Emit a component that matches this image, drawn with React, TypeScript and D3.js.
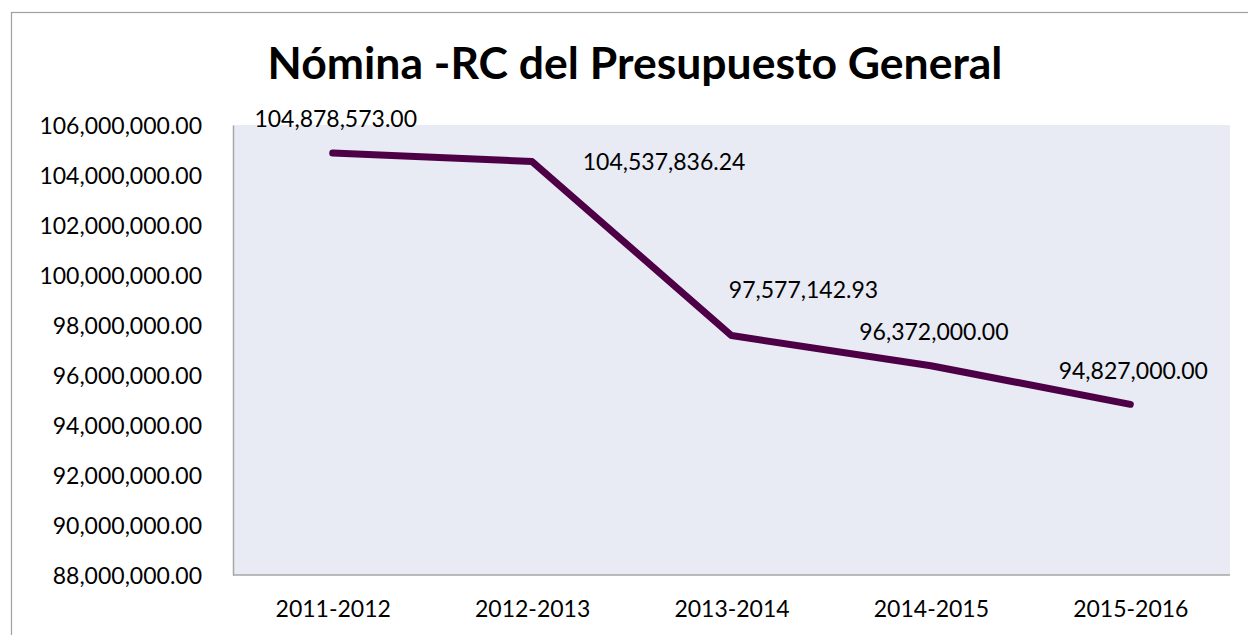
import { useEffect, useRef } from "react";
import * as d3 from "d3";

// Nómina -RC del Presupuesto General, per fiscal year
const CATEGORIES = ["2011-2012", "2012-2013", "2013-2014", "2014-2015", "2015-2016"];
const VALUES = [104878573.0, 104537836.24, 97577142.93, 96372000.0, 94827000.0];
const Y_TICKS = [88e6, 90e6, 92e6, 94e6, 96e6, 98e6, 100e6, 102e6, 104e6, 106e6];
const TITLE = "Nómina -RC del Presupuesto General";

// where each data label sits relative to its point (label centre, baseline)
const LABEL_OFFSETS = [
  { dx: 3, dy: -26 },
  { dx: 132, dy: 8 },
  { dx: 72, dy: -38 },
  { dx: 3, dy: -26 },
  { dx: 3, dy: -25 },
];

const FONT = "Lato, 'Open Sans', sans-serif";
const LINE_COLOR = "#4E0047";

export default function App() {
  const svgRef = useRef<SVGSVGElement | null>(null);

  useEffect(() => {
    const width = 1248;
    const height = 635;
    const plot = { left: 233, right: 1230, top: 125, bottom: 575 };

    const svg = d3.select(svgRef.current);
    svg.selectAll("*").remove();
    svg.attr("width", width).attr("height", height);

    // chart frame
    svg.append("rect")
      .attr("x", 11.5)
      .attr("y", 12.5)
      .attr("width", 1300)
      .attr("height", 700)
      .attr("fill", "#fff")
      .attr("stroke", "#A0A0A0")
      .attr("stroke-width", 1.2);

    const x = d3.scalePoint<string>()
      .domain(CATEGORIES)
      .range([plot.left, plot.right])
      .padding(0.5);

    const y = d3.scaleLinear()
      .domain([88e6, 106e6])
      .range([plot.bottom, plot.top]);

    svg.append("rect")
      .attr("x", plot.left)
      .attr("y", plot.top)
      .attr("width", plot.right - plot.left)
      .attr("height", plot.bottom - plot.top)
      .attr("fill", "#E8EAF4");

    svg.append("text")
      .attr("x", 635)
      .attr("y", 79)
      .attr("text-anchor", "middle")
      .attr("font-family", FONT)
      .attr("font-weight", 700)
      .attr("font-size", 44.5)
      .attr("fill", "#000")
      .text(TITLE);

    const fmt = d3.format(",.2f");

    const yAxis = svg.append("g")
      .attr("transform", `translate(${plot.left},0)`)
      .call(d3.axisLeft(y).tickValues(Y_TICKS).tickFormat((d) => fmt(d as number)).tickSize(0).tickPadding(31));
    yAxis.select(".domain").attr("stroke", "#A6A6A6").attr("stroke-width", 1.5);
    yAxis.selectAll("text")
      .attr("font-family", FONT)
      .attr("font-size", 23)
      .attr("fill", "#000")
      .attr("dy", "0.36em");

    const xAxis = svg.append("g")
      .attr("transform", `translate(0,${plot.bottom})`)
      .call(d3.axisBottom(x).tickSize(0).tickPadding(0));
    xAxis.select(".domain").attr("stroke", "#A6A6A6").attr("stroke-width", 1.5)
      .attr("d", `M${plot.left},0H${plot.right}`);
    xAxis.selectAll("text")
      .attr("font-family", FONT)
      .attr("font-size", 23)
      .attr("fill", "#000")
      .attr("y", 42)
      .attr("dy", 0);

    const line = d3.line<number>()
      .x((_, i) => x(CATEGORIES[i]) as number)
      .y((d) => y(d));

    svg.append("path")
      .datum(VALUES)
      .attr("fill", "none")
      .attr("stroke", LINE_COLOR)
      .attr("stroke-width", 7)
      .attr("stroke-linecap", "round")
      .attr("stroke-linejoin", "round")
      .attr("d", line);

    svg.append("g")
      .selectAll("text")
      .data(VALUES)
      .join("text")
      .attr("x", (_, i) => (x(CATEGORIES[i]) as number) + LABEL_OFFSETS[i].dx)
      .attr("y", (d, i) => y(d) + LABEL_OFFSETS[i].dy)
      .attr("text-anchor", "middle")
      .attr("font-family", FONT)
      .attr("font-size", 23)
      .attr("fill", "#000")
      .text((d) => fmt(d));
  }, []);

  return (
    <svg ref={svgRef} style={{ position: "absolute", left: 0, top: 0, display: "block" }} />
  );
}
